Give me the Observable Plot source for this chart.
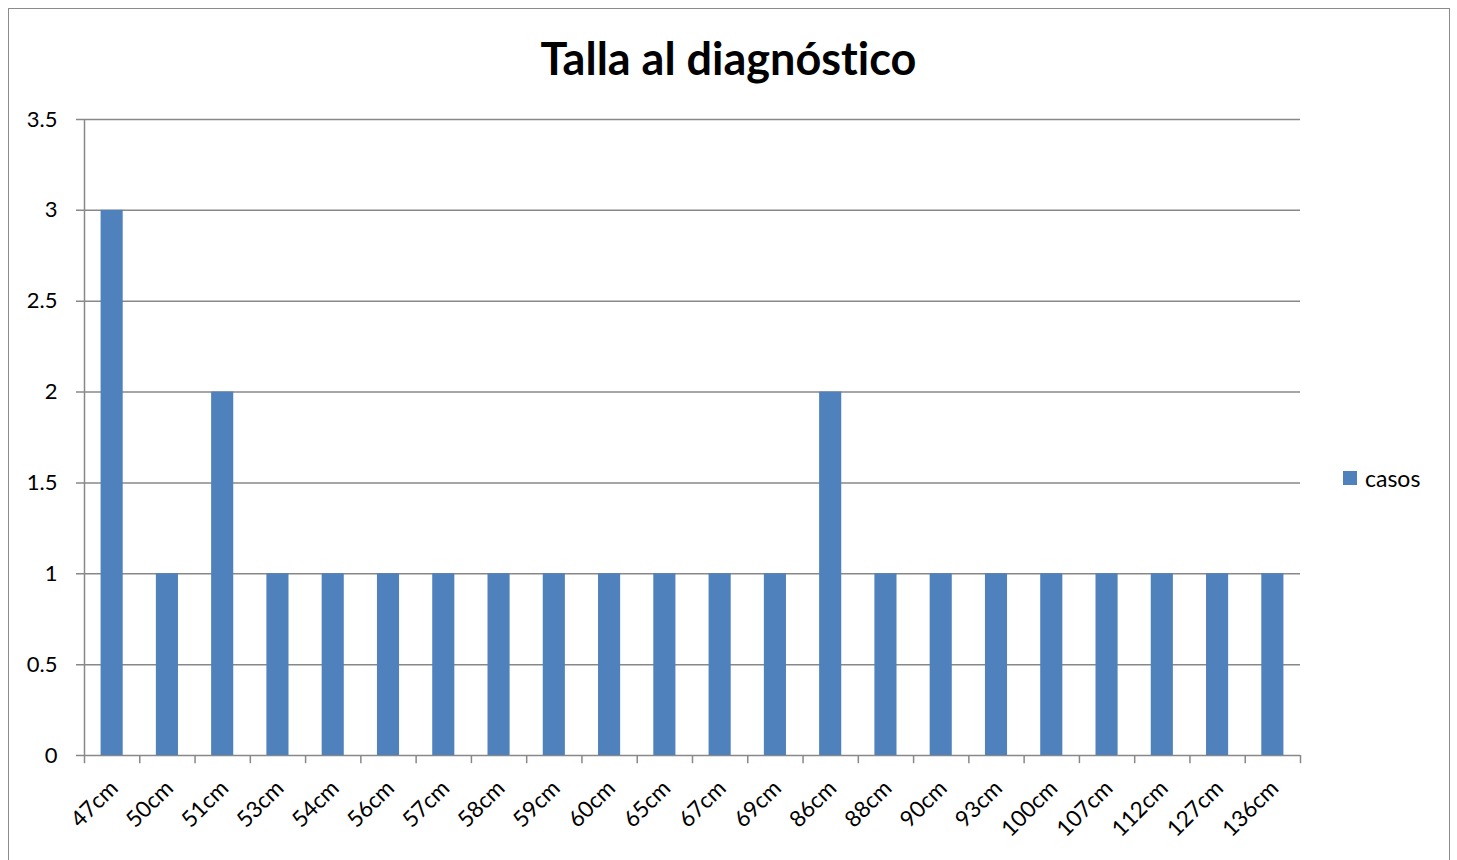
<!DOCTYPE html>
<html><head><meta charset="utf-8">
<script src="https://cdn.jsdelivr.net/npm/d3@7"></script>
<script src="https://cdn.jsdelivr.net/npm/@observablehq/plot@0.6"></script>
<style>
body{margin:0;background:#fff;font-family:Lato, sans-serif;font-variant-ligatures:none;}
#wrap{position:relative;width:1457px;height:860px;overflow:hidden;background:#fff;}
#frame{position:absolute;left:8px;top:8px;width:1442px;height:900px;border:1.5px solid #8c8c8c;box-sizing:border-box;}
#title{position:absolute;left:0;top:31px;width:1457px;text-align:center;font-weight:bold;font-size:45px;line-height:54px;color:#000;font-variant-ligatures:none;}
#legend{position:absolute;left:1343px;top:464px;font-size:23px;display:flex;align-items:center;color:#000;}
#legend .sw{width:14px;height:14px;background:#4F81BD;margin-right:8px;}
#chart{position:absolute;left:0;top:0;}
#chart svg text{font-variant-ligatures:none;}
</style></head>
<body>
<div id="wrap">
  <div id="chart"></div>
  <div id="frame"></div>
  <div id="title">Talla al diagnóstico</div>
  <div id="legend"><span class="sw"></span><span>casos</span></div>
</div>
<script>
const categories = ["47cm","50cm","51cm","53cm","54cm","56cm","57cm","58cm","59cm","60cm","65cm","67cm","69cm","86cm","88cm","90cm","93cm","100cm","107cm","112cm","127cm","136cm"];
const casos = [3,1,2,1,1,1,1,1,1,1,1,1,1,2,1,1,1,1,1,1,1,1];
const yTicks = [0,0.5,1,1.5,2,2.5,3,3.5];
const seriesName = "casos";

const data = categories.map((c,i)=>({cat:c, v:casos[i]}));
const W = 1457, H = 860, mL = 84, mR = 157, mT = 119, mB = 105;
const step = (W - mL - mR) / categories.length;
const gray = "#888888";

const chart = Plot.plot({
  width: W, height: H,
  marginLeft: mL, marginRight: mR, marginTop: mT, marginBottom: mB,
  style: {fontFamily: "Lato, sans-serif", fontSize: "22px", color: "#000", background: "transparent"},
  x: {domain: categories, paddingInner: 0.6, paddingOuter: 0.3, round: false, label: null},
  y: {domain: [0, 3.5], label: null},
  marks: [
    Plot.ruleY(yTicks, {stroke: gray, strokeWidth: 1.5, insetLeft: -8}),
    Plot.barY(data, {x: "cat", y: "v", fill: "#4F81BD"}),
    Plot.ruleX([categories[0]], {y1: 0, y2: 3.5, dx: -step/2, stroke: gray, strokeWidth: 1.5}),
    Plot.ruleX(categories, {x: d => d, y1: 0, y2: -0.045, dx: -step/2, stroke: gray, strokeWidth: 1.5}),
    Plot.ruleX([categories[categories.length-1]], {y1: 0, y2: -0.045, dx: step/2, stroke: gray, strokeWidth: 1.5}),
    Plot.axisY({ticks: yTicks, tickSize: 0, tickPadding: 27, tickFormat: d => String(d), fontSize: 22}),
    Plot.axisX({tickSize: 0, tickRotate: -45, tickPadding: 29, dx: 2, fontSize: 22.5})
  ]
});
document.getElementById("chart").appendChild(chart);
</script>
</body></html>
